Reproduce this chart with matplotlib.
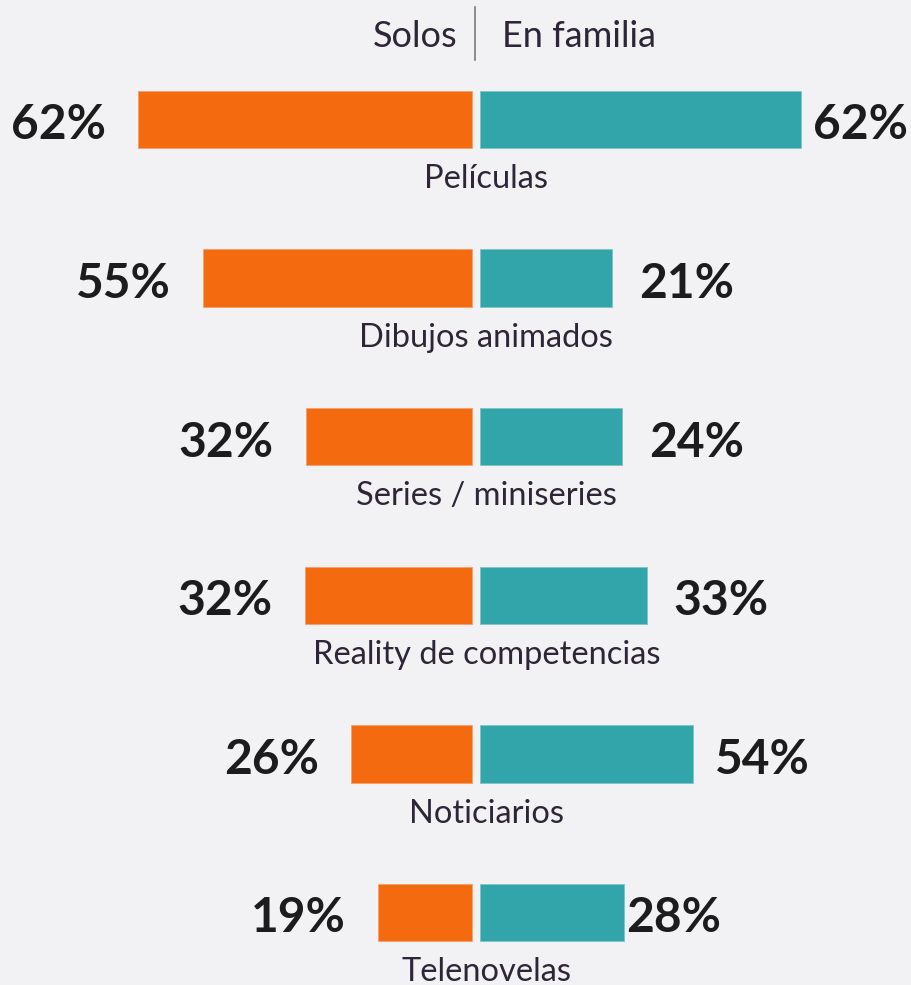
import matplotlib
matplotlib.use("Agg")
import matplotlib.pyplot as plt

# data
categories = ["Películas", "Dibujos animados", "Series / miniseries",
              "Reality de competencias", "Noticiarios", "Telenovelas"]
solos_pct = [62, 55, 32, 32, 26, 19]
familia_pct = [62, 21, 24, 33, 54, 28]
# drawn bar lengths (same % scale) - the source bars are not exactly proportional
solos_bar = [64.3, 51.8, 32.0, 32.2, 23.2, 18.1]
familia_bar = [61.7, 25.3, 27.4, 32.2, 41.0, 27.7]

W, H = 912, 985
BG = "#f2f2f5"
ORANGE = "#f36a0f"
TEAL = "#31a5aa"
DARK = "#1c1c1c"
LABEL = "#2e2636"

plt.rcParams["font.family"] = ["Lato", "DejaVu Sans"]

fig = plt.figure(figsize=(W / 100, H / 100), dpi=100, facecolor=BG)
ax = fig.add_axes([0, 0, 1, 1], facecolor=BG)

px_per_pct = 5.2
center_px = 476
row_px = 158.6
first_row_px = 119.5
gap = 0.77
bar_h = 57.5 / row_px

ax.set_xlim(-center_px / px_per_pct, (W - center_px) / px_per_pct)
ax.set_ylim(5 + (H - first_row_px - 5 * row_px) / row_px, -first_row_px / row_px)
ax.axis("off")

rows = list(range(len(categories)))
ax.barh(rows, [-v for v in solos_bar], left=-gap, height=bar_h, color=ORANGE,
        edgecolor="#f5a070", linewidth=0.6)
ax.barh(rows, familia_bar, left=gap, height=bar_h, color=TEAL,
        edgecolor="#7cc4c7", linewidth=0.6)

right_pad = [9, 20, 19, 19, 16, 1.5]  # points
for i in rows:
    ax.annotate(f"{solos_pct[i]}%", (-gap - solos_bar[i], i), xytext=(-23, -14.3),
                textcoords="offset points", ha="right", va="baseline",
                fontsize=34.5, fontweight="bold", color=DARK)
    ax.annotate(f"{familia_pct[i]}%", (gap + familia_bar[i], i), xytext=(right_pad[i], -14.3),
                textcoords="offset points", ha="left", va="baseline",
                fontsize=34.5, fontweight="bold", color=DARK)
    ax.annotate(categories[i], (2, i + bar_h / 2), xytext=(0, -28.8),
                textcoords="offset points", ha="center", va="baseline",
                fontsize=23.5, color=LABEL)

# header
fig.text(457 / W, 1 - 46.7 / H, "Solos", ha="right", va="baseline", fontsize=26, color=LABEL)
fig.text(502 / W, 1 - 46.7 / H, "En familia", ha="left", va="baseline", fontsize=26, color=LABEL)
fig.add_artist(plt.Line2D([475 / W, 475 / W], [1 - 7 / H, 1 - 60 / H], color="#7a7a7a", lw=1.2))

fig.savefig("out.png", dpi=100, facecolor=BG)
